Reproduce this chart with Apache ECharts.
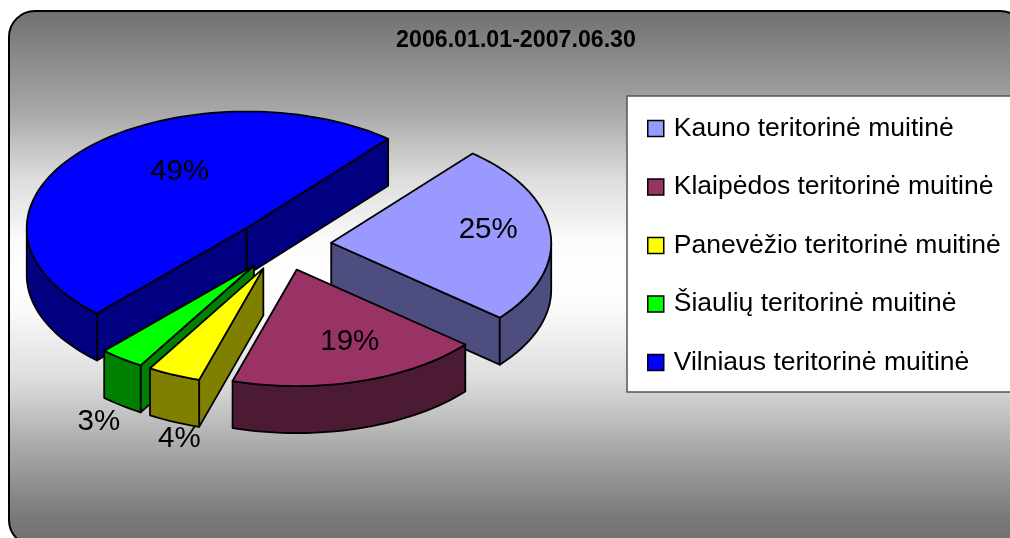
<!DOCTYPE html>
<html>
<head>
<meta charset="utf-8">
<style>
  html, body { margin: 0; padding: 0; background: #fff; }
  #chart { width: 1010px; height: 538px; }
</style>
<script src="https://cdn.jsdelivr.net/npm/echarts@6/dist/echarts.min.js"></script>
</head>
<body>
<div id="chart"></div>
<script>
const titleText = '2006.01.01-2007.06.30';
const categories = ['Kauno teritorinė muitinė', 'Klaipėdos teritorinė muitinė', 'Panevėžio teritorinė muitinė', 'Šiaulių teritorinė muitinė', 'Vilniaus teritorinė muitinė'];
// the printed labels are these rounded
const values = [25, 18.6, 3.9, 3.3, 49.2];
const topColors = ['#9999FF', '#993366', '#FFFF00', '#00FF00', '#0000FF'];
const sideColors = ['#4D4D80', '#4D1A33', '#808000', '#008000', '#000080'];
// label offset from the tip of each slice
const labelOffsets = [[157, -13], [53, 72], [-84, 170], [-155, 156], [-67, -56]];

// the tilted pie
const cx = 283, cy = 245, rx = 220, ry = 116.5, depth = 47;
const explode = 0.22;
const startAngle = -50;

const total = values.reduce((a, b) => a + b, 0);
let acc = startAngle;
const slices = values.map(function (v) {
    const from = acc;
    acc += v / total * 360;
    return { from: from, to: acc };
});

const rad = d => d * Math.PI / 180;

function renderSlice(index, api) {
    const s = slices[index];
    const mid = rad((s.from + s.to) / 2);
    const ax = cx + explode * rx * Math.cos(mid);
    const ay = cy + explode * ry * Math.sin(mid);
    const onRim = d => [ax + rx * Math.cos(rad(d)), ay + ry * Math.sin(rad(d))];
    const down = p => [p[0], p[1] + depth];
    const midPt = onRim((s.from + s.to) / 2);

    const rim = [];
    for (let d = s.from; d < s.to; d += 2) rim.push(onRim(d));
    rim.push(onRim(s.to));

    const children = [];
    const style = { fill: sideColors[index], stroke: '#000', lineWidth: 1.8, lineJoin: 'round' };

    // radial walls, only if the slice lies above the edge on screen
    [rim[0], rim[rim.length - 1]].forEach(function (p) {
        const dx = p[0] - ax, dy = p[1] - ay;
        const side = dx * (midPt[1] - ay) - dy * (midPt[0] - ax);
        if (dx * side < 0) {
            children.push({ type: 'polygon', shape: { points: [[ax, ay], p, down(p), [ax, ay + depth]] }, style: style });
        }
    });

    // outer wall, front half of the rim only
    const front = rim.filter(p => p[1] >= ay - 0.01);
    if (front.length > 1) {
        children.push({ type: 'polygon', shape: { points: front.concat(front.map(down).reverse()) }, style: style });
    }

    children.push({
        type: 'polygon',
        shape: { points: [[ax, ay]].concat(rim) },
        style: { fill: topColors[index], stroke: '#000', lineWidth: 1.8, lineJoin: 'round' }
    });

    children.push({
        type: 'text',
        z2: 50,
        style: {
            x: ax + labelOffsets[index][0],
            y: ay + labelOffsets[index][1],
            text: Math.round(api.value(0)) + '%',
            fill: '#000',
            font: '29.5px "Liberation Sans", Arial, sans-serif',
            align: 'center',
            verticalAlign: 'middle'
        }
    });

    return { type: 'group', children: children };
}

const series = categories.map(function (name, i) {
    const s = slices[i];
    return {
        name: name,
        type: 'custom',
        coordinateSystem: 'none',
        z: 10 + Math.round(Math.sin(rad((s.from + s.to) / 2)) * 5),
        silent: true,
        itemStyle: { color: topColors[i] },
        data: [[values[i]]],
        renderItem: (params, api) => renderSlice(i, api)
    };
});

const chart = echarts.init(document.getElementById('chart'), null, { renderer: 'canvas' });
chart.setOption({
    animation: false,
    title: {
        text: titleText,
        left: 511,
        top: 24,
        textAlign: 'center',
        textStyle: { fontFamily: '"Liberation Sans", Arial, sans-serif', fontSize: 23.2, fontWeight: 'bold', color: '#000' }
    },
    legend: {
        data: categories,
        orient: 'vertical',
        left: 627,
        top: 96,
        icon: 'rect',
        itemWidth: 16,
        itemHeight: 16,
        itemGap: 31.5,
        padding: [19, 60, 16, 20],
        backgroundColor: '#fff',
        borderColor: '#555',
        borderWidth: 1.5,
        selectedMode: false,
        itemStyle: { borderColor: '#000', borderWidth: 1.5 },
        textStyle: { fontFamily: '"Liberation Sans", Arial, sans-serif', fontSize: 26.5, color: '#000', padding: [0, 0, 0, 5] }
    },
    graphic: [{
        type: 'rect',
        z: -1,
        shape: { x: 9, y: 11, width: 1017, height: 535, r: 26 },
        style: {
            stroke: '#000',
            lineWidth: 2,
            fill: new echarts.graphic.LinearGradient(0, 0, 0, 1, [
                { offset: 0, color: '#707070' },
                { offset: 0.185, color: '#a6a6a6' },
                { offset: 0.312, color: '#dcdcdc' },
                { offset: 0.428, color: '#fafafa' },
                { offset: 0.495, color: '#ffffff' },
                { offset: 0.559, color: '#fafafa' },
                { offset: 0.69, color: '#dcdcdc' },
                { offset: 0.817, color: '#a8a8a8' },
                { offset: 0.942, color: '#7a7a7a' },
                { offset: 1, color: '#6e6e6e' }
            ])
        }
    }],
    series: series
});
</script>
</body>
</html>
